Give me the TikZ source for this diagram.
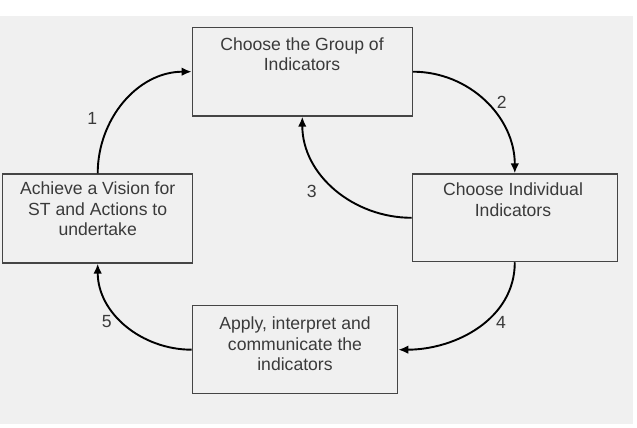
\documentclass[tikz,border=0pt]{standalone}
\usepackage{fontspec}
\setmainfont{Liberation Sans}
\usetikzlibrary{arrows.meta}
\definecolor{bggray}{HTML}{F0F0F0}
\definecolor{boxline}{HTML}{454545}
\definecolor{txtgray}{HTML}{3A3A3A}
\begin{document}
\begin{tikzpicture}[x=1pt,y=1pt,
  box/.style={draw=boxline,line width=1.2pt,rectangle,inner sep=0pt},
  txt/.style={align=center,inner sep=0pt,anchor=north,text=txtgray,font=\fontsize{17.6}{20.5}\selectfont},
  num/.style={inner sep=0pt,text=txtgray,font=\fontsize{17.6}{20.5}\selectfont},
  conn/.style={line width=1.9pt,black,-{Latex[length=10pt,width=8.5pt]}}]
\useasboundingbox (0,0) rectangle (637,-428);
\fill[white] (0,0) rectangle (637,-428);
\fill[bggray] (0,-16) rectangle (633,-424);
% boxes
\node[box,minimum width=220pt,minimum height=88.7pt] (top) at (302.3,-71.7) {};
\node[box,minimum width=190pt,minimum height=89pt] (left) at (97.7,-218.5) {};
\node[box,minimum width=205pt,minimum height=87.7pt] (right) at (514.8,-217.8) {};
\node[box,minimum width=205.4pt,minimum height=88pt] (bottom) at (295,-349.7) {};
% texts
\node[txt] (ttop) at (302,-37.5) {Choose the Group of\\Indicators};
\node[txt] (tleft) at (97.7,-181.7) {Achieve a Vision for\\ST and Actions to\\undertake};
\node[txt] (tright) at (513,-182.7) {Choose Individual\\Indicators};
\node[txt] (tbottom) at (295,-316.7) {Apply, interpret and\\communicate the\\indicators};
% connectors
\draw[conn] (left.north) to[out=90,in=180] (top.west);
\draw[conn] (top.east) to[out=0,in=90] (right.north);
\draw[conn] (right.west) to[out=180,in=-90] (top.south);
\draw[conn] (right.south) to[out=-90,in=0] (bottom.east);
\draw[conn] (bottom.west) to[out=180,in=-90] (left.south);
% labels
\node[num] (n1) at (92.3,-118.3) {1};
\node[num] (n2) at (501.7,-102.3) {2};
\node[num] (n3) at (311.7,-191) {3};
\node[num] (n4) at (501,-322.7) {4};
\node[num] (n5) at (106.7,-321.7) {5};
\end{tikzpicture}
\end{document}
